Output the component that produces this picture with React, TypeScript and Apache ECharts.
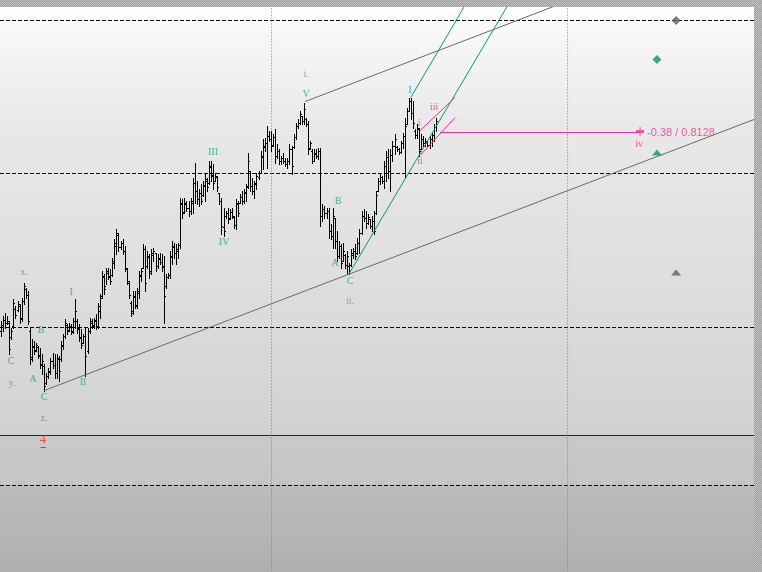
import React, { useEffect, useRef } from 'react';
import * as echarts from 'echarts';

// Bars: [open, high, low, close] in price points (x0.0001)
const ohlc: number[][] = [
  [7930,7940,7925,7936],[7936,7945,7930,7941],[7941,7948,7933,7938],[7938,7945,7937,7940],[7938,7940,7907,7912],[7924,7933,7922,7930],[7935,7962,7933,7958],[7952,7955,7943,7946],[7951,7960,7950,7957],[7955,7957,7938,7942],
  [7943,7963,7940,7960],[7960,7978,7957,7975],[7972,7973,7963,7966],[7966,7970,7937,7940],[7930,7933,7897,7902],[7904,7922,7900,7915],[7914,7920,7907,7910],[7911,7918,7910,7916],[7914,7915,7903,7905],[7906,7913,7893,7896],
  [7897,7907,7887,7900],[7895,7897,7870,7875],[7878,7888,7877,7885],[7885,7893,7883,7890],[7889,7903,7887,7900],[7900,7908,7893,7896],[7896,7907,7883,7888],[7888,7907,7883,7903],[7902,7905,7880,7890],[7902,7920,7900,7916],
  [7915,7927,7912,7925],[7925,7942,7923,7938],[7936,7937,7927,7930],[7931,7938,7930,7935],[7934,7937,7927,7929],[7930,7943,7928,7940],[7940,7962,7933,7950],[7940,7942,7928,7932],[7933,7937,7920,7923],[7924,7932,7913,7916],
  [7918,7927,7918,7925],[7925,7933,7885,7905],[7910,7933,7908,7930],[7930,7943,7928,7940],[7938,7942,7933,7936],[7935,7943,7933,7941],[7940,7947,7932,7934],[7935,7958,7933,7955],[7950,7967,7943,7963],[7965,7990,7963,7985],
  [7984,7987,7967,7972],[7975,7993,7977,7990],[7988,7993,7982,7985],[7984,7992,7977,7980],[7986,8003,7985,8000],[7998,8022,7993,8018],[8015,8032,8007,8028],[8026,8028,8010,8014],[8014,8020,8012,8018],[8018,8022,8007,8010],
  [8010,8015,7990,7993],[7992,7993,7977,7980],[7978,7980,7963,7966],[7958,7960,7945,7948],[7950,7970,7947,7965],[7964,7970,7953,7956],[7955,7973,7953,7970],[7968,7990,7963,7986],[7985,7993,7980,7990],[7993,8017,7993,8012],
  [8012,8015,7970,7978],[7995,8010,7993,8005],[8004,8007,7983,7988],[7990,8012,7987,8008],[8006,8013,8000,8010],[8008,8008,7990,7995],[7995,8007,7993,8003],[8002,8008,7997,7999],[7999,8007,7990,7994],[7995,8005,7938,7965],
  [7975,7987,7973,7984],[7984,7988,7983,7986],[7986,8010,7983,8005],[8004,8020,7997,8015],[8014,8018,8003,8008],[8008,8017,7997,8012],[8010,8018,8003,8016],[8016,8063,8013,8058],[8057,8062,8043,8048],[8049,8063,8048,8058],
  [8057,8060,8050,8053],[8053,8060,8045,8050],[8050,8063,8047,8060],[8058,8083,8048,8078],[8078,8098,8058,8070],[8070,8080,8057,8062],[8062,8072,8055,8068],[8068,8077,8057,8060],[8066,8080,8065,8076],[8075,8087,8060,8082],
  [8080,8083,8070,8074],[8078,8100,8077,8095],[8094,8100,8080,8085],[8086,8097,8072,8078],[8080,8088,8080,8085],[8084,8085,8070,8074],[8068,8068,8057,8060],[8060,8063,8027,8035],[8034,8053,8025,8030],[8045,8050,8043,8048],
  [8048,8053,8038,8042],[8043,8052,8042,8049],[8049,8053,8043,8045],[8044,8045,8033,8036],[8036,8062,8032,8058],[8057,8060,8045,8048],[8058,8067,8058,8064],[8064,8070,8057,8060],[8060,8072,8058,8069],[8068,8077,8060,8074],
  [8075,8108,8073,8100],[8090,8090,8070,8075],[8075,8083,8067,8070],[8070,8080,8063,8078],[8077,8088,8072,8085],[8084,8090,8082,8088],[8088,8110,8088,8105],[8104,8122,8092,8115],[8114,8123,8110,8118],[8118,8135,8093,8125],
  [8125,8130,8120,8122],[8122,8130,8110,8115],[8116,8127,8115,8124],[8124,8132,8098,8105],[8105,8117,8103,8110],[8110,8112,8097,8100],[8100,8105,8097,8103],[8103,8108,8098,8100],[8100,8103,8095,8097],[8097,8103,8093,8100],
  [8100,8117,8097,8112],[8112,8115,8087,8095],[8114,8127,8113,8124],[8124,8138,8122,8135],[8135,8142,8133,8138],[8138,8150,8137,8147],[8145,8145,8137,8140],[8140,8158,8137,8152],[8142,8143,8135,8137],[8137,8140,8107,8112],
  [8113,8120,8112,8118],[8110,8112,8098,8100],[8100,8112,8100,8108],[8107,8112,8103,8105],[8105,8113,8102,8110],[8110,8113,8035,8045],[8045,8057,8040,8052],[8052,8055,8043,8048],[8048,8053,8043,8050],[8050,8053,8023,8030],
  [8030,8037,8022,8025],[8025,8053,8013,8045],[8043,8043,8013,8020],[8020,8030,8000,8005],[8005,8020,8003,8015],[8015,8017,7993,7998],[8000,8018,8000,8010],[8006,8007,7993,7996],[7996,8010,7988,8005],[7995,7998,7987,7990],
  [7996,8012,7995,8008],[8006,8013,8003,8010],[8010,8017,8002,8005],[8008,8023,8007,8018],[8018,8032,8008,8028],[8028,8050,8027,8045],[8045,8052,8040,8043],[8043,8050,8033,8038],[8038,8047,8037,8044],[8042,8042,8033,8035],
  [8035,8045,8030,8040],[8040,8050,8027,8030],[8048,8070,8047,8066],[8070,8083,8070,8080],[8080,8087,8077,8084],[8084,8085,8078,8080],[8080,8100,8073,8095],[8095,8110,8080,8104],[8104,8112,8083,8090],[8090,8112,8070,8106],
  [8106,8120,8100,8115],[8115,8127,8107,8122],[8114,8115,8110,8112],[8112,8113,8107,8109],[8109,8120,8108,8118],[8118,8128,8113,8125],[8125,8143,8083,8135],[8137,8153,8137,8150],[8150,8163,8150,8160],[8160,8163,8142,8148],
  [8148,8160,8133,8138],[8130,8132,8123,8126],[8126,8137,8123,8133],[8132,8133,8105,8110],[8112,8127,8112,8122],[8122,8125,8115,8118],[8118,8123,8115,8120],[8120,8120,8115,8116],[8116,8125,8113,8122],[8122,8128,8115,8126],
  [8126,8137,8120,8134],[8134,8143,8130,8140],
];

// Horizontal levels
const dashedLevels = [8240, 8087, 7933, 7775];
const solidLevels = [7825];
// Period separators (bar index)
const separators = [131.3, 275.0];

// Trend lines: [barIndex, price] pairs
const grayChannelLower = [[21, 7870], [365.5, 8141]];
const grayChannelUpper = [[147.6, 8159], [300, 8279]];
const greenLineFromI = [[198.9, 8163], [240, 8307]];
const greenLineFromC = [[169, 7987], [260, 8304]];
const pinkLineHigh = [[203.4, 8130], [220.4, 8163]];
const pinkLineLow = [[203.4, 8105], [220.4, 8143]];
const pinkTarget = [[213.1, 8128], [310.2, 8128]];

// Wave labels
const greenLabels = [
  { text: 'C', bar: 4.9, price: 7900 },
  { text: 'A', bar: 15.5, price: 7882 },
  { text: 'B', bar: 19.4, price: 7931 },
  { text: 'C', bar: 20.9, price: 7864 },
  { text: 'I', bar: 34.0, price: 7969 },
  { text: 'II', bar: 39.8, price: 7879 },
  { text: 'III', bar: 102.9, price: 8109 },
  { text: 'IV', bar: 108.3, price: 8019 },
  { text: 'V', bar: 148.1, price: 8167 },
  { text: 'A', bar: 162.1, price: 7998 },
  { text: 'B', bar: 163.6, price: 8060 },
  { text: 'C', bar: 169.4, price: 7980 },
  { text: 'I', bar: 198.5, price: 8171 },
];
const grayLabels = [
  { text: 'x.', bar: 11.2, price: 7989 },
  { text: 'y.', bar: 5.3, price: 7878 },
  { text: 'z.', bar: 20.9, price: 7843 },
  { text: 'i.', bar: 148.1, price: 8187 },
  { text: 'ii.', bar: 169.4, price: 7960 },
];
const pinkLabels = [
  { text: 'iii', bar: 210.2, price: 8154 },
  { text: 'i', bar: 202.9, price: 8138 },
  { text: 'ii', bar: 203.4, price: 8100 },
  { text: 'iv', bar: 309.7, price: 8117 },
];
const redLabels = [{ text: '4', bar: 20.4, price: 7822 }];

// Signal markers
const markers = [
  { kind: 'diamond', tone: 'gray', bar: 327.7, price: 8240 },
  { kind: 'diamond', tone: 'green', bar: 318.4, price: 8201 },
  { kind: 'triangle', tone: 'green', bar: 318.4, price: 8108 },
  { kind: 'triangle', tone: 'gray', bar: 327.7, price: 7988 },
];
const targetPoint = { bar: 310.2, price: 8129, text: '-0.38 / 0.8128' };

const GREEN = '#00a064';
const GREEN_TXT = '#08a878';
const PINK = '#f0308c';
const GRAY_LINE = '#6a6a6a';
const SERIF = '"Liberation Serif", "DejaVu Serif", serif';

function lineSeries(data: number[][], color: string, type: any = 'solid', z = 3) {
  return {
    type: 'line',
    data,
    symbol: 'none',
    silent: true,
    clip: true,
    z,
    animation: false,
    lineStyle: { color, width: 1, type },
  };
}

function labelSeries(items: any[], color: string, fontSize: number) {
  return {
    type: 'scatter',
    symbolSize: 1,
    silent: true,
    z: 10,
    itemStyle: { color: 'rgba(0,0,0,0)' },
    data: items.map((d) => ({ name: d.text, value: [d.bar, d.price] })),
    label: {
      show: true,
      position: 'inside',
      formatter: '{b}',
      color,
      fontSize,
      fontFamily: SERIF,
    },
  };
}

export default function App() {
  const ref = useRef<HTMLDivElement>(null);

  useEffect(() => {
    if (!ref.current) return;
    const chart = echarts.init(ref.current, undefined, { renderer: 'svg' });
    const X_MIN = -0.5;
    const X_MAX = 365.5;

    const series: any[] = [];

    dashedLevels.forEach((p) => series.push(lineSeries([[X_MIN, p], [X_MAX, p]], '#000', [4, 2], 1)));
    solidLevels.forEach((p) => series.push(lineSeries([[X_MIN, p], [X_MAX, p]], '#2a2a2a', 'solid', 1)));
    separators.forEach((b) => series.push(lineSeries([[b, 7600], [b, 8300]], '#7a7a7a', [1, 2], 1)));

    series.push({
      type: 'custom',
      silent: true,
      clip: true,
      z: 2,
      data: ohlc.map((d, i) => [i, d[0], d[1], d[2], d[3]]),
      encode: { x: 0, y: [1, 2, 3, 4] },
      renderItem: (_params: any, api: any) => {
        const i = api.value(0);
        const pO = api.coord([i, api.value(1)]);
        const pH = api.coord([i, api.value(2)]);
        const pL = api.coord([i, api.value(3)]);
        const pC = api.coord([i, api.value(4)]);
        const px = Math.round(pO[0]);
        const xc = px + 0.5;
        const yH = Math.round(pH[1]);
        const yL = Math.round(pL[1]);
        const yO = Math.round(pO[1]) + 0.5;
        const yC = Math.round(pC[1]) + 0.5;
        const style = { stroke: '#000', lineWidth: 1, fill: null };
        return {
          type: 'group',
          children: [
            { type: 'line', shape: { x1: xc, y1: yH, x2: xc, y2: yL + 1 }, style },
            { type: 'line', shape: { x1: px - 1, y1: yO, x2: px, y2: yO }, style },
            { type: 'line', shape: { x1: px + 1, y1: yC, x2: px + 2, y2: yC }, style },
          ],
        };
      },
    });

    series.push(lineSeries(grayChannelLower, GRAY_LINE, 'solid', 4));
    series.push(lineSeries(grayChannelUpper, GRAY_LINE, 'solid', 4));
    series.push(lineSeries(greenLineFromI, GREEN, 'solid', 4));
    series.push(lineSeries(greenLineFromC, GREEN, 'solid', 4));
    series.push(lineSeries(pinkLineHigh, PINK, 'solid', 4));
    series.push(lineSeries(pinkLineLow, PINK, 'solid', 4));
    series.push(lineSeries(pinkTarget, PINK, 'solid', 4));

    // underline of red label
    redLabels.forEach((l) =>
      series.push(lineSeries([[l.bar - 1.2, l.price - 9], [l.bar + 1.4, l.price - 9]], '#ff2a00', 'solid', 9))
    );

    series.push({
      type: 'scatter',
      silent: true,
      z: 8,
      data: markers.map((m) => ({
        value: [m.bar, m.price],
        symbol: m.kind,
        symbolSize: m.kind === 'diamond' ? [9, 9] : [10, 6],
        itemStyle: { color: m.tone === 'green' ? '#009a60' : '#5e5e5e' },
      })),
    });

    series.push({
      type: 'scatter',
      silent: true,
      z: 9,
      symbol: 'path://M0,3H8V6H0Z M3.5,0H4.5V9H3.5Z',
      symbolSize: [8, 9],
      itemStyle: { color: PINK },
      data: [{ name: targetPoint.text, value: [targetPoint.bar, targetPoint.price] }],
      label: {
        show: true,
        position: 'right',
        distance: 3,
        formatter: '{b}',
        color: PINK,
        fontSize: 11,
        fontFamily: '"Liberation Sans", Arial, sans-serif',
      },
    });

    series.push(labelSeries(greenLabels, GREEN_TXT, 10));
    series.push(labelSeries(grayLabels, '#80809a', 10));
    series.push(labelSeries(pinkLabels, '#f0208a', 10));
    series.push(labelSeries(redLabels, '#ff2a00', 12));

    chart.setOption({
      animation: false,
      backgroundColor: 'transparent',
      grid: { left: 0, right: 0, top: 0, bottom: 0 },
      xAxis: { type: 'value', min: X_MIN, max: X_MAX, show: false },
      yAxis: { type: 'value', min: 7688.5, max: 8253.5, show: false },
      series,
    });

    return () => chart.dispose();
  }, []);

  return (
    <div
      style={{
        position: 'absolute',
        left: 0,
        top: 0,
        width: 762,
        height: 572,
        overflow: 'hidden',
        background: 'repeating-conic-gradient(#9e9e9e 0% 25%, #c2c2c2 0% 50%) 0 0 / 2px 2px',
      }}
    >
      <div
        ref={ref}
        style={{
          position: 'absolute',
          left: 0,
          top: 7,
          width: 754,
          height: 565,
          background:
            'linear-gradient(to bottom, #ffffff 0px, #f8f8f8 23px, #e9e9e9 113px, #e0e0e0 243px, #d6d6d6 373px, #d1d1d1 427px, #c9c9c9 428px, #c5c5c5 477px, #bcbcbc 479px, #afafaf 565px)',
        }}
      />
    </div>
  );
}
